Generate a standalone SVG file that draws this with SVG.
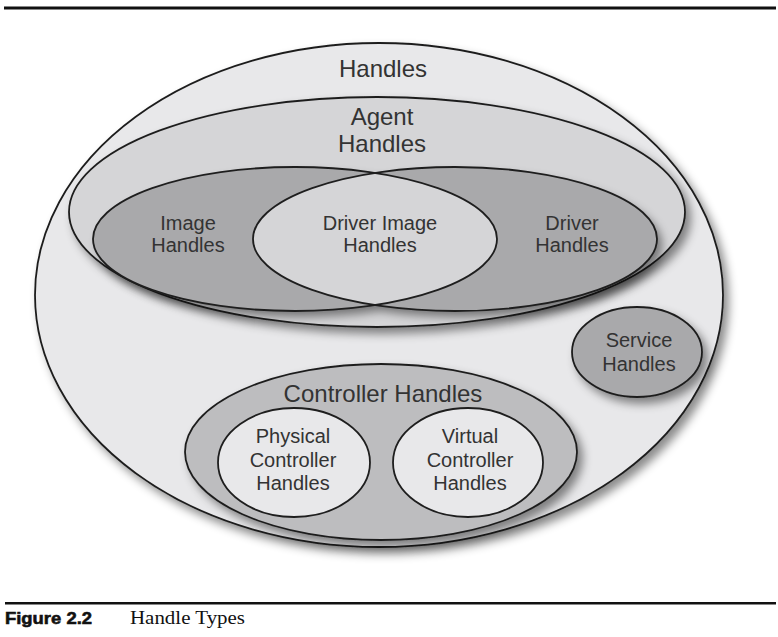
<svg xmlns="http://www.w3.org/2000/svg" width="778" height="637" viewBox="0 0 778 637">
<style>
.ln{stroke:#1e1e1e;stroke-width:1.8}
.t{font-family:"Liberation Sans",Arial,sans-serif;fill:#333;text-anchor:middle}
.big{font-size:24px}
.sm{font-size:20px}
.light{fill:#e8e8ea}
.mid{fill:#d5d5d7}
.dark{fill:#a9a9ab}
.ctl{fill:#bdbdbf}
</style>
<defs>
<filter id="sh" x="-10%" y="-10%" width="125%" height="130%">
<feDropShadow dx="5" dy="6" stdDeviation="5" flood-color="#000" flood-opacity="0.45"/>
</filter>
<clipPath id="imgclip"><ellipse cx="295" cy="239" rx="202" ry="72"/></clipPath>
</defs>
<rect width="778" height="637" fill="#fff"/>
<rect x="4" y="6.5" width="772" height="3" fill="#111"/>
<rect x="5" y="602" width="771" height="2.5" fill="#111"/>
<g id="handles">
<ellipse cx="379" cy="295" rx="344" ry="252" class="light ln" filter="url(#sh)"/>
<text class="t big" x="383" y="77">Handles</text>
</g>
<g id="agent-handles">
<ellipse cx="377" cy="212" rx="308" ry="115" class="mid ln" filter="url(#sh)"/>
<text class="t big" x="382" y="125">Agent</text>
<text class="t big" x="382" y="152">Handles</text>
</g>
<g id="venn">
<g filter="url(#sh)">
<ellipse cx="295" cy="239" rx="202" ry="72" class="dark"/>
<ellipse cx="455" cy="239" rx="202" ry="72" class="dark"/>
</g>
<ellipse cx="455" cy="239" rx="202" ry="72" class="mid" clip-path="url(#imgclip)"/>
</g>
<g id="image-handles">
<ellipse cx="295" cy="239" rx="202" ry="72" fill="none" class="ln"/>
<text class="t sm" x="188" y="230">Image</text>
<text class="t sm" x="188" y="252">Handles</text>
</g>
<g id="driver-handles">
<ellipse cx="455" cy="239" rx="202" ry="72" fill="none" class="ln"/>
<text class="t sm" x="572" y="230">Driver</text>
<text class="t sm" x="572" y="252">Handles</text>
</g>
<g id="driver-image-handles">
<text class="t sm" x="380" y="230">Driver Image</text>
<text class="t sm" x="380" y="252">Handles</text>
</g>
<g id="service-handles">
<ellipse cx="637" cy="352" rx="65" ry="45" class="dark ln" filter="url(#sh)"/>
<text class="t sm" x="639" y="347">Service</text>
<text class="t sm" x="639" y="371">Handles</text>
</g>
<g id="controller-handles">
<ellipse cx="381" cy="452" rx="196" ry="88" class="ctl ln" filter="url(#sh)"/>
<text class="t big" x="383" y="402">Controller Handles</text>
</g>
<g id="physical-controller-handles">
<ellipse cx="294" cy="462.5" rx="76" ry="54.5" class="light ln"/>
<text class="t sm" x="293" y="443">Physical</text>
<text class="t sm" x="293" y="467">Controller</text>
<text class="t sm" x="293" y="490">Handles</text>
</g>
<g id="virtual-controller-handles">
<ellipse cx="468" cy="462.5" rx="75" ry="54.5" class="light ln"/>
<text class="t sm" x="470" y="443">Virtual</text>
<text class="t sm" x="470" y="467">Controller</text>
<text class="t sm" x="470" y="490">Handles</text>
</g>
<g id="connectors"></g>
<g id="caption">
<text x="5" y="624" font-family="'Liberation Sans',Arial,sans-serif" font-weight="900" font-size="17" fill="#111" stroke="#111" stroke-width="0.6" textLength="87" lengthAdjust="spacingAndGlyphs">Figure 2.2</text>
<text x="130" y="624" font-family="'Liberation Serif','Times New Roman',serif" font-size="18" fill="#111" textLength="115" lengthAdjust="spacingAndGlyphs">Handle Types</text>
</g>
</svg>
